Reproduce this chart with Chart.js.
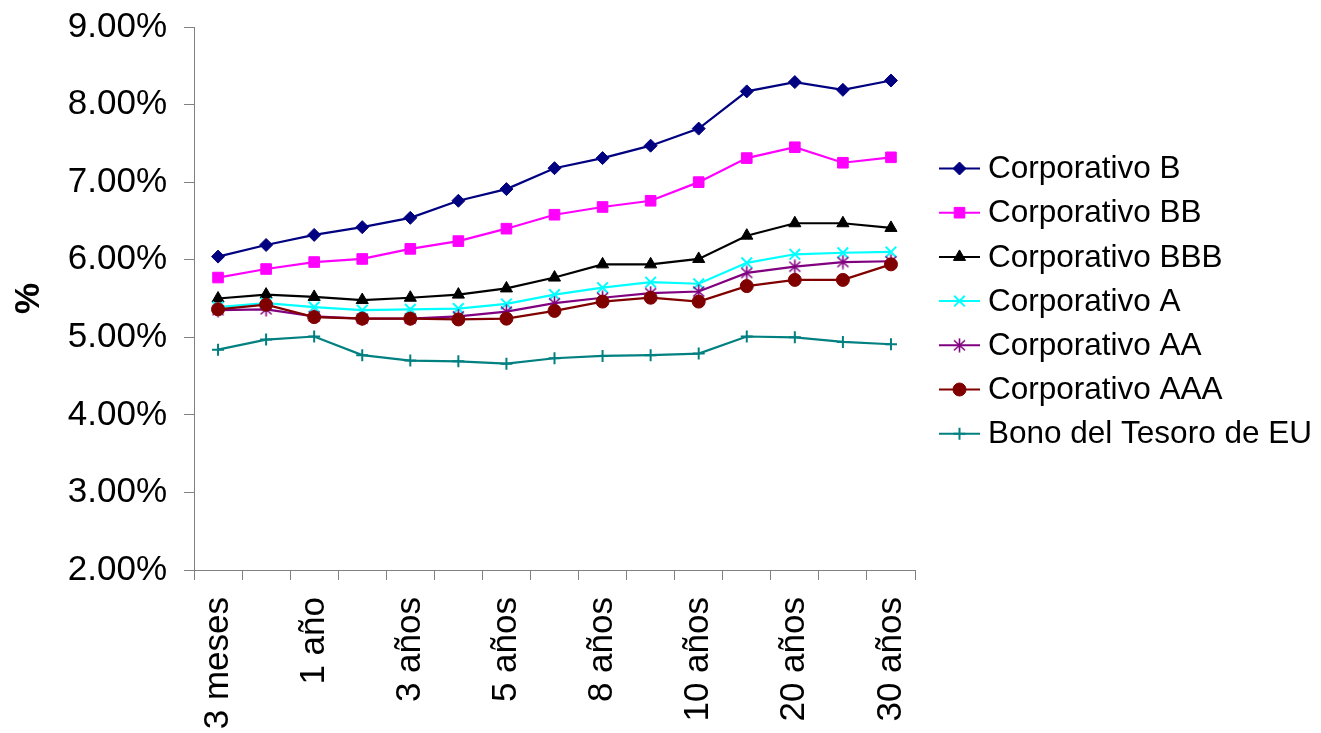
<!DOCTYPE html>
<html>
<head>
<meta charset="utf-8">
<script src="https://cdn.jsdelivr.net/npm/chart.js@4.4.1/dist/chart.umd.min.js"></script>
<style>
  html, body { margin: 0; padding: 0; background: #ffffff; }
  #wrap { width: 1321px; height: 733px; position: relative; }
</style>
</head>
<body>
<div id="wrap"><canvas id="curva" width="1321" height="733"></canvas></div>
<script>
// Plazos (vencimientos) de la curva de rendimientos
const plazos = ['3 meses', '6 meses', '1 año', '2 años', '3 años', '4 años', '5 años', '7 años',
                '8 años', '9 años', '10 años', '15 años', '20 años', '25 años', '30 años'];

// Rendimientos en %
const corpB   = [6.04, 6.19, 6.32, 6.42, 6.54, 6.76, 6.91, 7.18, 7.31, 7.47, 7.69, 8.17, 8.29, 8.19, 8.31];
const corpBB  = [5.77, 5.88, 5.97, 6.01, 6.14, 6.24, 6.40, 6.58, 6.68, 6.76, 7.00, 7.31, 7.45, 7.25, 7.32];
const corpBBB = [5.50, 5.55, 5.52, 5.48, 5.51, 5.55, 5.63, 5.77, 5.94, 5.94, 6.01, 6.31, 6.47, 6.47, 6.41];
const corpA   = [5.39, 5.44, 5.39, 5.35, 5.36, 5.37, 5.43, 5.55, 5.64, 5.71, 5.69, 5.96, 6.07, 6.09, 6.10];
const corpAA  = [5.35, 5.36, 5.27, 5.24, 5.24, 5.27, 5.33, 5.44, 5.51, 5.57, 5.59, 5.83, 5.91, 5.97, 5.98];
const corpAAA = [5.36, 5.42, 5.26, 5.24, 5.24, 5.23, 5.24, 5.34, 5.46, 5.51, 5.46, 5.66, 5.74, 5.74, 5.94];
const bonoEU  = [4.84, 4.97, 5.01, 4.77, 4.70, 4.69, 4.66, 4.73, 4.76, 4.77, 4.79, 5.01, 5.00, 4.94, 4.91];

const series = ['Corporativo B', 'Corporativo BB', 'Corporativo BBB', 'Corporativo A',
                'Corporativo AA', 'Corporativo AAA', 'Bono del Tesoro de EU'];

// Eje Y
const yMin = 2, yMax = 9, yStep = 1;

const FONT = '"Liberation Sans", Arial, Helvetica, sans-serif';

// Asterisco (X con trazo vertical) como marcador
function asterisk(color) {
  const c = document.createElement('canvas');
  c.width = 15; c.height = 15;
  const g = c.getContext('2d');
  g.strokeStyle = color; g.lineWidth = 1.6; g.lineCap = 'butt';
  g.beginPath();
  g.moveTo(7.5, 0.5); g.lineTo(7.5, 14.5);
  g.moveTo(2, 2.5); g.lineTo(13, 12.5);
  g.moveTo(13, 2.5); g.lineTo(2, 12.5);
  g.stroke();
  return c;
}

function ds(label, data, color, style, radius, order, extra) {
  return Object.assign({
    label, data,
    borderColor: color,
    backgroundColor: color,
    pointBackgroundColor: color,
    pointBorderColor: color,
    borderWidth: 2.2,
    pointStyle: style,
    pointRadius: radius,
    pointHoverRadius: radius,
    pointBorderWidth: 1,
    tension: 0,
    fill: false,
    order
  }, extra || {});
}

const datasets = [
  ds(series[0], corpB,   '#000080', 'rectRot',  6.5, 7),
  ds(series[1], corpBB,  '#FF00FF', 'rect',     7.5, 6),
  ds(series[2], corpBBB, '#000000', 'triangle', 7,   5),
  ds(series[3], corpA,   '#00FFFF', 'crossRot', 7.5, 4, { pointBorderWidth: 2 }),
  ds(series[4], corpAA,  '#800080', asterisk('#800080'), 7, 3),
  ds(series[5], corpAAA, '#800000', 'circle',   6.5, 2),
  ds(series[6], bonoEU,  '#008080', 'cross',    6,   1, { pointBorderWidth: 2 })
];

// Leyenda a la derecha: trazo + marcador + nombre
const legendRight = {
  id: 'legendRight',
  afterDraw(chart) {
    const ctx = chart.ctx;
    const x0 = 939, x1 = 980, xm = 959.5, xt = 988;
    const yFirst = 168.5, dy = 44.2;
    chart.data.datasets.forEach((d, i) => {
      const y = yFirst + i * dy;
      ctx.save();
      ctx.strokeStyle = d.borderColor;
      ctx.lineWidth = 2;
      ctx.beginPath();
      ctx.moveTo(x0, y); ctx.lineTo(x1, y);
      ctx.stroke();
      ctx.fillStyle = d.pointBackgroundColor;
      ctx.strokeStyle = d.pointBorderColor;
      ctx.lineWidth = d.pointBorderWidth;
      Chart.helpers.drawPoint(ctx, {
        pointStyle: d.pointStyle,
        radius: d.pointRadius,
        borderWidth: d.pointBorderWidth,
        rotation: 0
      }, xm, y);
      ctx.fillStyle = '#000000';
      ctx.font = '31.5px ' + FONT;
      ctx.textAlign = 'left';
      ctx.textBaseline = 'middle';
      ctx.fillText(d.label, xt, y + 1);
      ctx.restore();
    });
  }
};

new Chart(document.getElementById('curva'), {
  type: 'line',
  data: { labels: plazos, datasets },
  options: {
    responsive: false,
    animation: false,
    devicePixelRatio: 1,
    layout: { padding: { top: 27, right: 406, left: 0, bottom: 0 } },
    plugins: {
      legend: { display: false },
      tooltip: { enabled: false }
    },
    scales: {
      x: {
        type: 'category',
        offset: true,
        grid: {
          display: true,
          offset: true,
          drawOnChartArea: false,
          drawTicks: true,
          tickLength: 10,
          color: '#808080',
          lineWidth: 1
        },
        border: { display: true, color: '#808080', width: 1 },
        ticks: {
          autoSkip: false,
          maxRotation: 90,
          minRotation: 90,
          padding: 17,
          color: '#000000',
          font: { family: FONT, size: 35 },
          callback(value, index) { return index % 2 === 0 ? plazos[index] : ''; }
        },
        afterFit(scale) { scale.height = 163; scale.paddingLeft = 0; scale.paddingRight = 0; }
      },
      y: {
        min: yMin,
        max: yMax,
        grid: {
          display: true,
          drawOnChartArea: false,
          drawTicks: true,
          tickLength: 10,
          color: '#808080',
          lineWidth: 1
        },
        border: { display: true, color: '#808080', width: 1 },
        ticks: {
          stepSize: yStep,
          padding: 17,
          color: '#000000',
          font: { family: FONT, size: 35 },
          callback(v) { return Number(v).toFixed(2) + '%'; }
        },
        title: {
          display: true,
          text: '%',
          color: '#000000',
          font: { family: FONT, size: 35, weight: 'bold' },
          padding: { top: 8, bottom: 0 }
        },
        afterFit(scale) { scale.width = 194; scale.paddingTop = 0; scale.paddingBottom = 0; }
      }
    }
  },
  plugins: [legendRight]
});
</script>
</body>
</html>
